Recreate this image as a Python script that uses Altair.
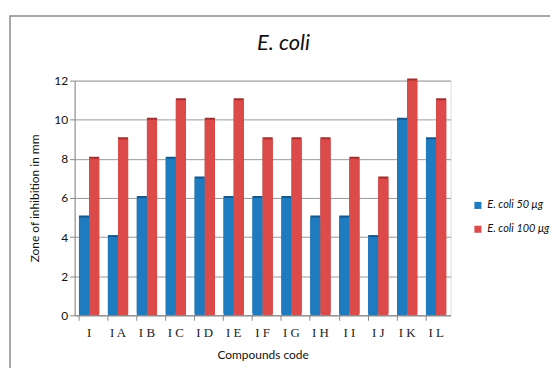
import altair as alt
import pandas as pd

compounds = ["I", "IA", "IB", "IC", "ID", "IE", "IF", "IG", "IH", "II", "IJ", "IK", "IL"]
labels_display = ["I", "I A", "I B", "I C", "I D", "I E", "I F", "I G", "I H", "I I", "I J", "I K", "I L"]
series = ["E. coli 50 μg", "E. coli 100 μg"]
vals_50 = [5, 4, 6, 8, 7, 6, 6, 6, 5, 5, 4, 10, 9]
vals_100 = [8, 9, 10, 11, 10, 11, 9, 9, 9, 8, 7, 12, 11]
colors = ["#1f7bc0", "#dc4a4a"]
dark_colors = ["#15588c", "#9e3030"]
title_text = "E. coli"

rows = []
for c, lab, a, b in zip(compounds, labels_display, vals_50, vals_100):
    rows.append({"code": lab, "series": series[0], "value": a})
    rows.append({"code": lab, "series": series[1], "value": b})
df = pd.DataFrame(rows)

x_enc = alt.X("code:N", sort=labels_display,
              scale=alt.Scale(paddingInner=0.3, paddingOuter=0.15),
              axis=alt.Axis(title="Compounds code", labelAngle=0,
                            labelFont="Liberation Serif", labelFontSize=13,
                            labelColor="#222", labelPadding=6,
                            titleFont="Lato", titleFontSize=12, titleFontWeight="normal",
                            titleColor="#111", titlePadding=10,
                            domainColor="#888", tickColor="#888", tickSize=5,
                            bandPosition=0, grid=False))
y_enc = alt.Y("value:Q",
              scale=alt.Scale(domain=[0, 12], nice=False),
              axis=alt.Axis(title="Zone of inhibition in mm", values=[0, 2, 4, 6, 8, 10, 12],
                            labelFont="Lato", labelFontSize=12, labelColor="#111",
                            titleFont="Lato", titleFontSize=12, titleFontWeight="normal",
                            titleColor="#111", titlePadding=12,
                            domainColor="#888", tickColor="#888", tickSize=5,
                            gridColor="#999", gridWidth=1))

xoff = alt.XOffset("series:N", sort=series)

side = alt.Chart(df).mark_bar(xOffset=3, yOffset=-2).encode(
    x=x_enc, y=y_enc, xOffset=xoff,
    color=alt.Color("series:N", sort=series,
                    scale=alt.Scale(domain=series, range=dark_colors), legend=None),
)

front = alt.Chart(df).mark_bar().encode(
    x=x_enc, y=y_enc, xOffset=xoff,
    color=alt.Color("series:N", sort=series,
                    scale=alt.Scale(domain=series, range=colors),
                    legend=alt.Legend(title=None, orient="none", legendX=400, legendY=120,
                                      symbolType="square", symbolSize=50,
                                      symbolStrokeWidth=0, labelOffset=4,
                                      labelFont="Lato", labelFontSize=11,
                                      labelFontStyle="italic", labelColor="#111",
                                      rowPadding=12, labelLimit=200)),
)

border = alt.Chart(pd.DataFrame({"a": [0]})).mark_rect(
    fill="transparent", stroke="#8a8a8a", strokeWidth=1.5
).encode(x=alt.value(-65), x2=alt.value(520), y=alt.value(-65), y2=alt.value(400))

title = alt.Chart(pd.DataFrame({"t": [title_text]})).mark_text(
    font="Lato", fontSize=22, fontStyle="italic", color="#111",
    align="center", baseline="alphabetic"
).encode(text="t:N", x=alt.value(210), y=alt.value(-31))

chart = alt.layer(border, title, side, front).resolve_scale(color="independent").properties(
    width=378, height=236,
    autosize=alt.AutoSizeParams(type="none"),
    padding={"left": 67, "top": 72, "right": 100, "bottom": 52},
).configure_view(stroke=None).configure(background="white")

chart.save("out.html", embed_options={"renderer": "svg", "actions": False})
